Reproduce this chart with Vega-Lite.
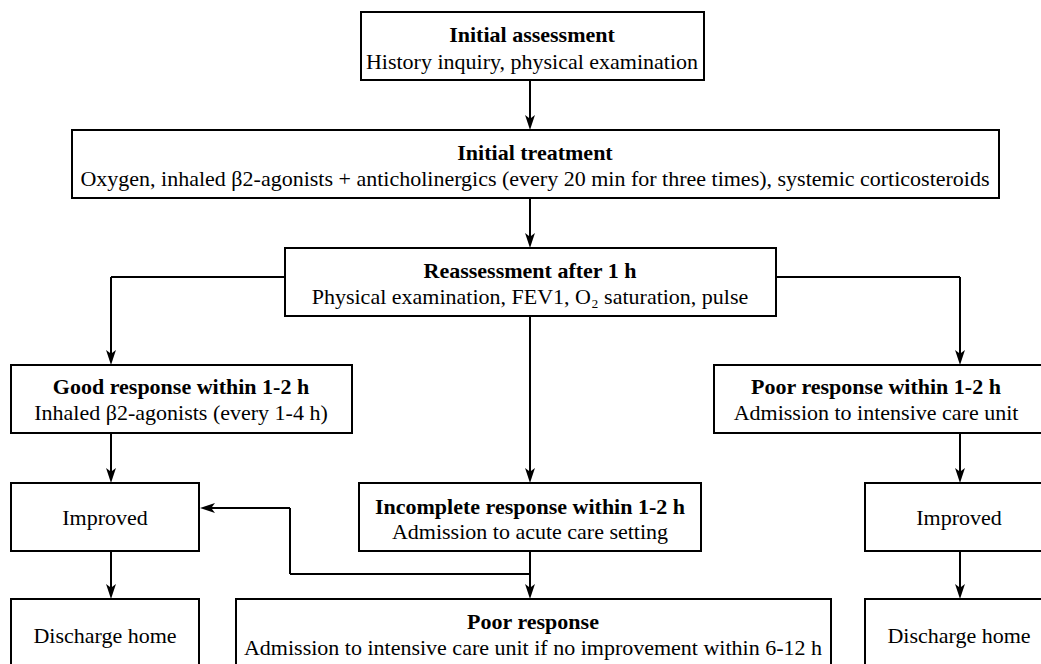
{
  "$schema": "https://vega.github.io/schema/vega-lite/v6.json",
  "width": 1041,
  "height": 664,
  "autosize": {"type": "none"},
  "padding": 0,
  "background": "white",
  "config": {"view": {"stroke": null}},
  "datasets": {
    "boxes": [
      {"id": "A", "x1": 361, "x2": 704, "y1": 12, "y2": 80},
      {"id": "B", "x1": 72, "x2": 999, "y1": 130, "y2": 198},
      {"id": "C", "x1": 285, "x2": 776, "y1": 248, "y2": 316},
      {"id": "D", "x1": 11, "x2": 352, "y1": 365, "y2": 433},
      {"id": "E", "x1": 714, "x2": 1050, "y1": 365, "y2": 433},
      {"id": "F", "x1": 11, "x2": 199, "y1": 483, "y2": 551},
      {"id": "G", "x1": 359, "x2": 701, "y1": 483, "y2": 551},
      {"id": "H", "x1": 865, "x2": 1050, "y1": 483, "y2": 551},
      {"id": "I", "x1": 11, "x2": 199, "y1": 599, "y2": 690},
      {"id": "J", "x1": 236, "x2": 831, "y1": 599, "y2": 690},
      {"id": "K", "x1": 865, "x2": 1050, "y1": 599, "y2": 690}
    ],
    "texts": [
      {"kind": "title", "x": 532, "y": 35, "text": "Initial assessment"},
      {"kind": "body", "x": 532, "y": 62, "text": "History inquiry, physical examination"},
      {"kind": "title", "x": 535, "y": 153, "text": "Initial treatment"},
      {"kind": "body", "x": 535, "y": 179, "text": "Oxygen, inhaled β2-agonists + anticholinergics (every 20 min for three times), systemic corticosteroids"},
      {"kind": "title", "x": 530, "y": 271, "text": "Reassessment after 1 h"},
      {"kind": "body", "x": 530, "y": 297, "text": "Physical examination, FEV1, O₂ saturation, pulse"},
      {"kind": "title", "x": 181, "y": 387, "text": "Good response within 1-2 h"},
      {"kind": "body", "x": 181, "y": 413, "text": "Inhaled β2-agonists (every 1-4 h)"},
      {"kind": "title", "x": 876, "y": 387, "text": "Poor response within 1-2 h"},
      {"kind": "body", "x": 876, "y": 413, "text": "Admission to intensive care unit"},
      {"kind": "body", "x": 105, "y": 518, "text": "Improved"},
      {"kind": "title", "x": 530, "y": 507, "text": "Incomplete response within 1-2 h"},
      {"kind": "body", "x": 530, "y": 532, "text": "Admission to acute care setting"},
      {"kind": "body", "x": 959, "y": 518, "text": "Improved"},
      {"kind": "body", "x": 105, "y": 636, "text": "Discharge home"},
      {"kind": "title", "x": 533, "y": 622, "text": "Poor response"},
      {"kind": "body", "x": 533, "y": 648, "text": "Admission to intensive care unit if no improvement within 6-12 h"},
      {"kind": "body", "x": 959, "y": 636, "text": "Discharge home"}
    ],
    "lines": [
      {"x1": 530, "y1": 80, "x2": 530, "y2": 124},
      {"x1": 530, "y1": 198, "x2": 530, "y2": 242},
      {"x1": 285, "y1": 277, "x2": 111, "y2": 277},
      {"x1": 111, "y1": 277, "x2": 111, "y2": 359},
      {"x1": 776, "y1": 277, "x2": 960, "y2": 277},
      {"x1": 960, "y1": 277, "x2": 960, "y2": 359},
      {"x1": 530, "y1": 316, "x2": 530, "y2": 477},
      {"x1": 111, "y1": 433, "x2": 111, "y2": 477},
      {"x1": 960, "y1": 433, "x2": 960, "y2": 477},
      {"x1": 530, "y1": 551, "x2": 530, "y2": 593},
      {"x1": 530, "y1": 574, "x2": 290, "y2": 574},
      {"x1": 290, "y1": 574, "x2": 290, "y2": 508},
      {"x1": 290, "y1": 508, "x2": 206, "y2": 508},
      {"x1": 111, "y1": 551, "x2": 111, "y2": 593},
      {"x1": 960, "y1": 551, "x2": 960, "y2": 593}
    ],
    "arrows": [
      {"dir": "down", "x": 530, "y": 130},
      {"dir": "down", "x": 530, "y": 248},
      {"dir": "down", "x": 111, "y": 365},
      {"dir": "down", "x": 960, "y": 365},
      {"dir": "down", "x": 530, "y": 483},
      {"dir": "down", "x": 111, "y": 483},
      {"dir": "down", "x": 960, "y": 483},
      {"dir": "down", "x": 530, "y": 599},
      {"dir": "down", "x": 111, "y": 599},
      {"dir": "down", "x": 960, "y": 599},
      {"dir": "left", "x": 200, "y": 508}
    ]
  },
  "layer": [
    {
      "data": {"name": "lines"},
      "mark": {"type": "rule", "color": "black", "strokeWidth": 2, "clip": true},
      "encoding": {
        "x": {"field": "x1", "type": "quantitative", "scale": {"domain": [0, 1041], "nice": false, "zero": false}, "axis": null},
        "x2": {"field": "x2"},
        "y": {"field": "y1", "type": "quantitative", "scale": {"domain": [0, 664], "nice": false, "zero": false, "reverse": true}, "axis": null},
        "y2": {"field": "y2"}
      }
    },
    {
      "data": {"name": "boxes"},
      "mark": {"type": "rect", "fill": "white", "stroke": "black", "strokeWidth": 2, "clip": true},
      "encoding": {
        "x": {"field": "x1", "type": "quantitative", "axis": null},
        "x2": {"field": "x2"},
        "y": {"field": "y1", "type": "quantitative", "axis": null},
        "y2": {"field": "y2"}
      }
    },
    {
      "data": {"name": "arrows"},
      "transform": [{"filter": "datum.dir === 'down'"}],
      "mark": {"type": "point", "shape": "M0,0L-0.33,-1L0,-0.75L0.33,-1Z", "filled": true, "color": "black", "opacity": 1, "size": 900, "strokeWidth": 0},
      "encoding": {
        "x": {"field": "x", "type": "quantitative", "axis": null},
        "y": {"field": "y", "type": "quantitative", "axis": null}
      }
    },
    {
      "data": {"name": "arrows"},
      "transform": [{"filter": "datum.dir === 'left'"}],
      "mark": {"type": "point", "shape": "M0,0L1,-0.33L0.75,0L1,0.33Z", "filled": true, "color": "black", "opacity": 1, "size": 900, "strokeWidth": 0},
      "encoding": {
        "x": {"field": "x", "type": "quantitative", "axis": null},
        "y": {"field": "y", "type": "quantitative", "axis": null}
      }
    },
    {
      "data": {"name": "texts"},
      "transform": [{"filter": "datum.kind === 'title'"}],
      "mark": {"type": "text", "font": "'Liberation Serif', 'Times New Roman', Times, serif", "fontSize": 22, "fontWeight": "bold", "color": "black", "align": "center", "baseline": "middle"},
      "encoding": {
        "x": {"field": "x", "type": "quantitative", "axis": null},
        "y": {"field": "y", "type": "quantitative", "axis": null},
        "text": {"field": "text"}
      }
    },
    {
      "data": {"name": "texts"},
      "transform": [{"filter": "datum.kind === 'body'"}],
      "mark": {"type": "text", "font": "'Liberation Serif', 'Times New Roman', Times, serif", "fontSize": 22, "color": "black", "align": "center", "baseline": "middle"},
      "encoding": {
        "x": {"field": "x", "type": "quantitative", "axis": null},
        "y": {"field": "y", "type": "quantitative", "axis": null},
        "text": {"field": "text"}
      }
    }
  ]
}
